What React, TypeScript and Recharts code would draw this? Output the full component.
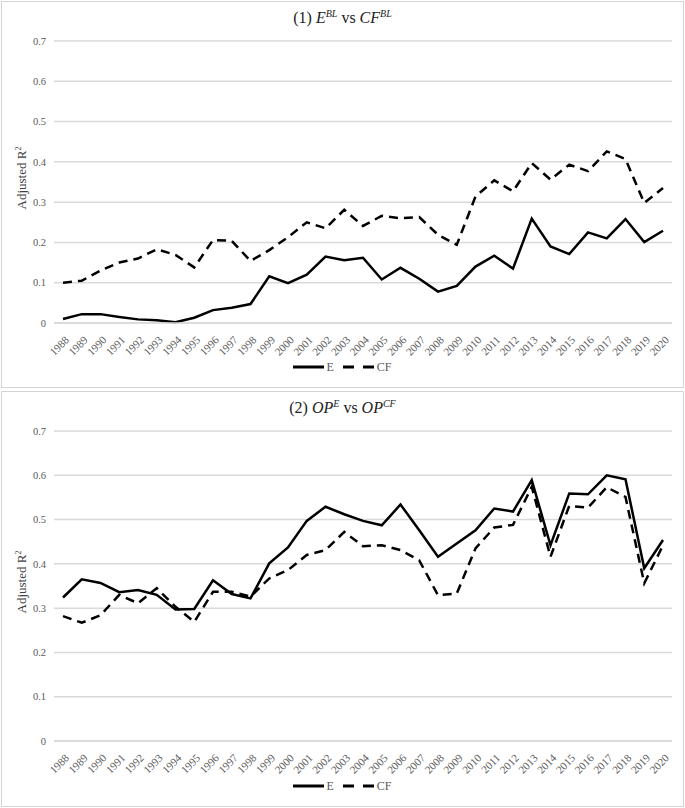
import { LineChart, Line, XAxis, YAxis, CartesianGrid } from "recharts";

const years = [
  "1988", "1989", "1990", "1991", "1992", "1993", "1994", "1995", "1996", "1997", "1998",
  "1999", "2000", "2001", "2002", "2003", "2004", "2005", "2006", "2007", "2008", "2009",
  "2010", "2011", "2012", "2013", "2014", "2015", "2016", "2017", "2018", "2019", "2020",
];

// panel (1): E^BL vs CF^BL
const eBL = [
  0.01, 0.022, 0.022, 0.015, 0.009, 0.007, 0.002, 0.013, 0.032, 0.038, 0.047,
  0.116, 0.099, 0.12, 0.165, 0.156, 0.162, 0.108, 0.137, 0.11, 0.078, 0.092,
  0.14, 0.167, 0.135, 0.259, 0.19, 0.171, 0.225, 0.21, 0.258, 0.201, 0.229,
];
const cfBL = [
  0.1, 0.105, 0.13, 0.15, 0.16, 0.183, 0.169, 0.138, 0.206, 0.204, 0.154,
  0.181, 0.213, 0.25, 0.235, 0.281, 0.241, 0.266, 0.26, 0.263, 0.219, 0.194,
  0.314, 0.354, 0.327, 0.397, 0.356, 0.393, 0.377, 0.426, 0.407, 0.298, 0.335,
];

// panel (2): OP^E vs OP^CF
const opE = [
  0.324, 0.365, 0.357, 0.336, 0.341, 0.33, 0.297, 0.298, 0.363, 0.332, 0.322,
  0.401, 0.437, 0.497, 0.529, 0.512, 0.497, 0.487, 0.534, 0.476, 0.416, 0.446,
  0.476, 0.525, 0.518, 0.589, 0.442, 0.559, 0.557, 0.6, 0.591, 0.39, 0.454,
];
const opCF = [
  0.282, 0.267, 0.284, 0.33, 0.311, 0.345, 0.303, 0.269, 0.337, 0.337, 0.326,
  0.367, 0.386, 0.42, 0.431, 0.472, 0.44, 0.442, 0.431, 0.408, 0.329, 0.333,
  0.435, 0.482, 0.488, 0.574, 0.416, 0.531, 0.527, 0.573, 0.551, 0.356, 0.442,
];

const yTicks = [0, 0.1, 0.2, 0.3, 0.4, 0.5, 0.6, 0.7];

const FONT = '"Liberation Serif", serif';
const GRID = "#d9d9d9";
const TEXT = "#595959";

function YearTick({ x, y, payload }: any) {
  return (
    <g transform={`translate(${x + 4},${y + 7})`}>
      <text
        textAnchor="end"
        transform="rotate(-45)"
        fontSize={11}
        fill={TEXT}
        style={{ fontFamily: FONT }}
        dy="0.35em"
      >
        {payload.value}
      </text>
    </g>
  );
}

function LegendBox({ top }: { top: number }) {
  return (
    <div
      style={{
        position: "absolute",
        left: 0,
        top,
        width: 685,
        display: "flex",
        justifyContent: "center",
        alignItems: "center",
        fontFamily: FONT,
        fontSize: 12,
        color: TEXT,
        lineHeight: "14px",
      }}
    >
      <svg width={31} height={6}>
        <line x1={0} y1={3} x2={31} y2={3} stroke="#000" strokeWidth={3} />
      </svg>
      <span style={{ marginLeft: 2, marginRight: 9 }}>E</span>
      <svg width={31} height={6}>
        <line x1={0} y1={3} x2={31} y2={3} stroke="#000" strokeWidth={3} strokeDasharray="11 9" />
      </svg>
      <span style={{ marginLeft: 3 }}>CF</span>
    </div>
  );
}

function Panel({
  top,
  height,
  title,
  e,
  cf,
}: {
  top: number;
  height: number;
  title: React.ReactNode;
  e: number[];
  cf: number[];
}) {
  const data = years.map((yr, i) => ({ year: yr, E: e[i], CF: cf[i] }));
  const plotTop = 41;
  const plotBottom = top === 0 ? 66 : 67;
  const axisH = 30;
  return (
    <div style={{ position: "absolute", left: 0, top, width: 685, height }}>
      <div
        style={{
          position: "absolute",
          left: 1,
          top: 1,
          width: 681,
          height: height - 4,
          border: "1px solid #d4d4d4",
        }}
      />
      <div
        style={{
          position: "absolute",
          left: 0,
          top: 8,
          width: 685,
          textAlign: "center",
          fontFamily: FONT,
          fontSize: 16,
          color: "#222",
        }}
      >
        {title}
      </div>
      <div
        style={{
          position: "absolute",
          left: 22,
          top: plotTop + (height - plotTop - plotBottom) / 2 - 4,
          transform: "translate(-50%, -50%) rotate(-90deg)",
          whiteSpace: "nowrap",
          fontFamily: FONT,
          fontSize: 13,
          color: "#404040",
        }}
      >
        Adjusted R<sup style={{ fontSize: 8 }}>2</sup>
      </div>
      <div style={{ position: "absolute", left: 0, top: 0 }}>
        <LineChart
          width={685}
          height={height}
          data={data}
          margin={{ top: plotTop, right: 13, bottom: plotBottom - axisH, left: 0 }}
        >
          <CartesianGrid vertical={false} stroke={GRID} strokeWidth={1.5} />
          <XAxis
            dataKey="year"
            height={axisH}
            interval={0}
            padding={{ left: 9, right: 9 }}
            axisLine={{ stroke: GRID, strokeWidth: 1.5 }}
            tickLine={false}
            tick={<YearTick />}
          />
          <YAxis
            width={54}
            domain={[0, 0.7]}
            ticks={yTicks}
            axisLine={false}
            tickLine={false}
            tick={{ fontSize: 10.5, fill: TEXT, style: { fontFamily: FONT } }}
            tickFormatter={(v: number) => (v === 0 ? "0" : v.toFixed(1))}
          />
          <Line
            dataKey="E"
            stroke="#000"
            strokeWidth={2.5}
            dot={false}
            isAnimationActive={false}
          />
          <Line
            dataKey="CF"
            stroke="#000"
            strokeWidth={2.5}
            strokeDasharray="9 6"
            dot={false}
            isAnimationActive={false}
          />
        </LineChart>
      </div>
      <LegendBox top={height - 29} />
    </div>
  );
}

export default function App() {
  return (
    <div
      style={{
        position: "absolute",
        left: 0,
        top: 0,
        width: 685,
        height: 808,
        background: "#fff",
      }}
    >
      <Panel
        top={0}
        height={389}
        e={eBL}
        cf={cfBL}
        title={
          <span>
            (1) <i>E</i>
            <sup style={{ fontSize: 10 }}>
              <i>BL</i>
            </sup>{" "}
            vs <i>CF</i>
            <sup style={{ fontSize: 10 }}>
              <i>BL</i>
            </sup>
          </span>
        }
      />
      <Panel
        top={390}
        height={418}
        e={opE}
        cf={opCF}
        title={
          <span>
            (2) <i>OP</i>
            <sup style={{ fontSize: 10 }}>
              <i>E</i>
            </sup>{" "}
            vs <i>OP</i>
            <sup style={{ fontSize: 10 }}>
              <i>CF</i>
            </sup>
          </span>
        }
      />
    </div>
  );
}
